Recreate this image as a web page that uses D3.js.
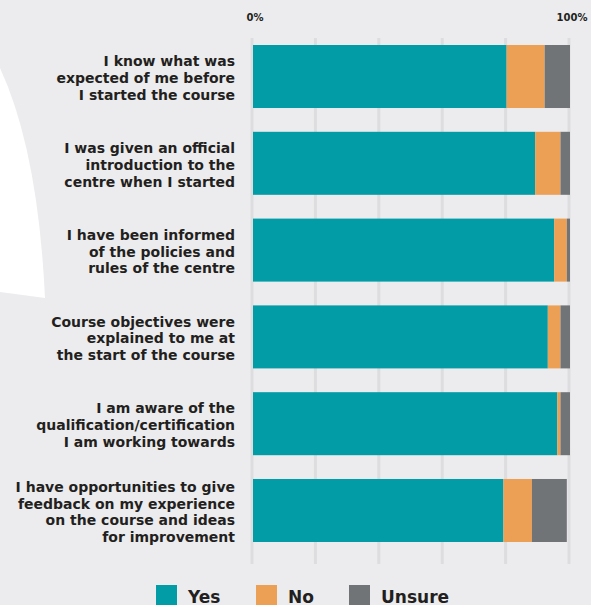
<!DOCTYPE html>
<html>
<head>
<meta charset="utf-8">
<script src="https://cdn.jsdelivr.net/npm/d3@7"></script>
<style>
  html, body { margin: 0; padding: 0; background: #ECECEE; }
  svg { display: block; }
  text { font-family: "DejaVu Sans", sans-serif; fill: #231F20; }
</style>
</head>
<body>
<svg id="chart" width="591" height="605"></svg>
<script>
// Survey statements (one line per array entry)
const questions = [
  ["I know what was", "expected of me before", "I started the course"],
  ["I was given an official", "introduction to the", "centre when I started"],
  ["I have been informed", "of the policies and", "rules of the centre"],
  ["Course objectives were", "explained to me at", "the start of the course"],
  ["I am aware of the", "qualification/certification", "I am working towards"],
  ["I have opportunities to give", "feedback on my experience", "on the course and ideas", "for improvement"]
];
const series = ["Yes", "No", "Unsure"];
const yesValues    = [80, 89, 95, 93, 96, 79];
const noValues     = [12,  8,  4,  4,  1,  9];
const unsureValues = [ 8,  3,  1,  3,  3, 11];
const colors = ["#029CA7", "#EBA055", "#717477"];
const tickValues = [0, 20, 40, 60, 80, 100];
const tickLabels = { 0: "0%", 100: "100%" };

const svg = d3.select("#chart");

// decorative white sweep on the left edge
svg.append("path")
  .attr("d", "M0,68 Q38,150 45,298 L0,292 Z")
  .attr("fill", "#FFFFFF");

const x = d3.scaleLinear().domain([0, 100]).range([253, 570]);
const y = d3.scaleBand().domain(d3.range(questions.length))
  .range([23.3, 563.7]).paddingInner(0.274).paddingOuter(0.25);

// vertical gridlines
svg.append("g").selectAll("line").data(tickValues).join("line")
  .attr("x1", d => x(d) - 1).attr("x2", d => x(d) - 1)
  .attr("y1", 38).attr("y2", 564)
  .attr("stroke", "#DDDDE0").attr("stroke-width", 3);

// top axis labels
svg.append("g").selectAll("text").data(tickValues.filter(d => tickLabels[d])).join("text")
  .attr("x", d => x(d) + 2)
  .attr("y", 21)
  .attr("text-anchor", "middle")
  .style("font-size", "10px").style("font-weight", 700)
  .text(d => tickLabels[d]);

// stacked bars
const rows = questions.map((q, i) => ({ i, Yes: yesValues[i], No: noValues[i], Unsure: unsureValues[i] }));
const stacked = d3.stack().keys(series)(rows);

svg.append("g").selectAll("g").data(stacked).join("g")
  .attr("fill", (d, k) => colors[k])
  .selectAll("rect").data(d => d).join("rect")
  .attr("x", d => x(d[0]))
  .attr("width", d => x(d[1]) - x(d[0]))
  .attr("y", d => y(d.data.i))
  .attr("height", y.bandwidth());

// category labels
const lineH = 16.8;
const labels = svg.append("g").selectAll("text").data(questions).join("text")
  .attr("text-anchor", "end")
  .style("font-size", "14px").style("font-weight", 700)
  .attr("transform", (d, i) => {
    const cy = y(i) + y.bandwidth() / 2;
    const top = cy - (d.length - 1) * lineH / 2 + 6.5;
    return `translate(235,${top})`;
  });
labels.selectAll("tspan").data(d => d).join("tspan")
  .attr("x", 0).attr("dy", (d, j) => j === 0 ? 0 : lineH)
  .text(d => d);

// legend
const legendX = [156, 256, 349];
const legend = svg.append("g").selectAll("g").data(series).join("g")
  .attr("transform", (d, k) => `translate(${legendX[k]},585)`);
legend.append("rect").attr("width", 21).attr("height", 21).attr("fill", (d, k) => colors[k]);
legend.append("text").attr("x", 32).attr("y", 18)
  .style("font-size", "17px").style("font-weight", 700)
  .text(d => d);
</script>
</body>
</html>
